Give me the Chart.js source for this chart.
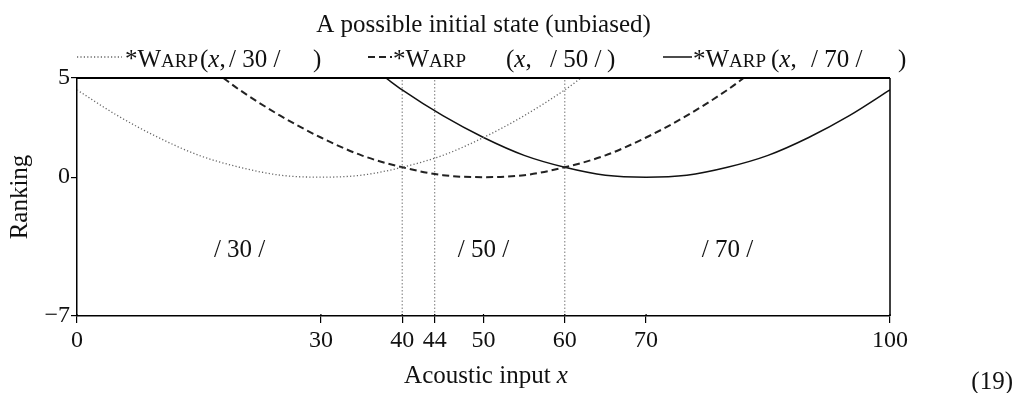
<!DOCTYPE html>
<html>
<head>
<meta charset="utf-8">
<script src="https://cdn.jsdelivr.net/npm/chart.js@4.4.1/dist/chart.umd.min.js"></script>
<style>
  html, body { margin: 0; padding: 0; background: #fff; }
  #wrap { width: 1032px; height: 393px; }
</style>
</head>
<body>
<div id="wrap"><canvas id="chart" width="1032" height="393"></canvas></div>
<script>
const FAMILY = "'Liberation Serif', 'Times New Roman', serif";

// categories and tick labels
const categories = ['30', '50', '70'];
const xTicks = [0, 30, 40, 44, 50, 60, 70, 100];
const yTicks = [-7, 0, 5];
const boundaries = [40, 44, 60];
const labelX = [20, 50, 80];
const labelY = -3.7;

// ranking of *Warp(x, /30/), /50/, /70/
const warp30x = [0, 5, 10, 15, 20, 25, 30, 35, 40, 45, 50, 55, 60, 62];
const warp30y = [4.4, 3.1, 2.0, 1.1, 0.5, 0.1, 0, 0.1, 0.5, 1.1, 2.0, 3.1, 4.4, 5];
const warp50x = [18, 20, 25, 30, 35, 40, 45, 50, 55, 60, 65, 70, 75, 80, 82];
const warp50y = [5, 4.4, 3.1, 2.0, 1.1, 0.5, 0.1, 0, 0.1, 0.5, 1.1, 2.0, 3.1, 4.4, 5];
const warp70x = [38, 40, 45, 50, 55, 60, 65, 70, 75, 80, 85, 90, 95, 100];
const warp70y = [5, 4.4, 3.1, 2.0, 1.1, 0.5, 0.1, 0, 0.1, 0.5, 1.1, 2.0, 3.1, 4.4];

const curveStyles = [
  { color: '#666', width: 1.3, dash: [1.2, 2.2] },
  { color: '#222', width: 2, dash: [7, 4] },
  { color: '#111', width: 1.5, dash: [] }
];

// legend piece positions (px): sample start/end, "*Warp", "(x,", "/cat/", ")"
const legendLayout = [
  { s0: 77, s1: 122, star: 125, paren: 200, cat: 229, close: 313 },
  { s0: 368, s1: 392, star: 393, paren: 506, cat: 550, close: 607 },
  { s0: 663, s1: 692, star: 693, paren: 771, cat: 811, close: 898 }
];

const zip = (xs, ys) => xs.map((x, i) => ({ x: x, y: ys[i] }));
const slashed = c => '/ ' + c + ' /';

const curves = [zip(warp30x, warp30y), zip(warp50x, warp50y), zip(warp70x, warp70y)];

const datasets = curves.map((pts, i) => ({
  label: '*Warp (x, /' + categories[i] + '/)',
  data: pts,
  borderColor: curveStyles[i].color,
  borderWidth: curveStyles[i].width,
  borderDash: curveStyles[i].dash,
  pointRadius: 0,
  cubicInterpolationMode: 'monotone',
  fill: false
}));

boundaries.forEach(b => {
  datasets.push({
    label: 'boundary ' + b,
    data: [{ x: b, y: yTicks[0] }, { x: b, y: yTicks[yTicks.length - 1] }],
    borderColor: '#777',
    borderWidth: 1,
    borderDash: [1.5, 2],
    pointRadius: 0,
    fill: false
  });
});

function drawRuns(ctx, x, y, parts) {
  let cx = x;
  parts.forEach(p => {
    ctx.font = (p.italic ? 'italic ' : '') + p.size + 'px ' + FAMILY;
    ctx.fillText(p.text, cx, y);
    cx += ctx.measureText(p.text).width;
  });
  return cx;
}

const decor = {
  id: 'decor',
  afterDatasetsDraw(chart) {
    const ctx = chart.ctx;
    const a = chart.chartArea;
    const xs = chart.scales.x, ys = chart.scales.y;
    ctx.save();
    ctx.strokeStyle = '#000';
    ctx.lineWidth = 2;
    ctx.beginPath();
    ctx.moveTo(a.left, a.top);
    ctx.lineTo(a.right, a.top);
    ctx.stroke();
    ctx.lineWidth = 1.5;
    ctx.beginPath();
    ctx.moveTo(a.right, a.top);
    ctx.lineTo(a.right, a.bottom);
    ctx.stroke();

    // little cross ticks above the x axis
    ctx.lineWidth = 1.2;
    xTicks.forEach(v => {
      const px = xs.getPixelForValue(v);
      ctx.beginPath();
      ctx.moveTo(px, a.bottom - 2);
      ctx.lineTo(px, a.bottom);
      ctx.stroke();
    });

    ctx.fillStyle = '#111';
    ctx.textAlign = 'center';
    ctx.textBaseline = 'middle';
    ctx.font = '25px ' + FAMILY;
    categories.forEach((c, i) => {
      ctx.fillText(slashed(c), xs.getPixelForValue(labelX[i]), ys.getPixelForValue(labelY));
    });
    ctx.restore();
  },
  afterDraw(chart) {
    const ctx = chart.ctx;
    const a = chart.chartArea;
    ctx.save();
    ctx.fillStyle = '#111';
    ctx.textBaseline = 'alphabetic';

    // title
    ctx.textAlign = 'center';
    ctx.font = '25px ' + FAMILY;
    ctx.fillText('A possible initial state (unbiased)', (a.left + a.right) / 2, 32);

    // legend
    ctx.textAlign = 'left';
    categories.forEach((c, i) => {
      const L = legendLayout[i];
      const st = curveStyles[i];
      ctx.strokeStyle = st.color;
      ctx.lineWidth = st.width;
      ctx.setLineDash(st.dash);
      ctx.beginPath();
      ctx.moveTo(L.s0, 57);
      ctx.lineTo(L.s1, 57);
      ctx.stroke();
      ctx.setLineDash([]);
      drawRuns(ctx, L.star, 67, [
        { text: '*W', size: 25 },
        { text: 'ARP', size: 19 }
      ]);
      drawRuns(ctx, L.paren, 67, [
        { text: '(', size: 25 },
        { text: 'x', size: 25, italic: true },
        { text: ',', size: 25 }
      ]);
      drawRuns(ctx, L.cat, 67, [{ text: slashed(c), size: 25 }]);
      drawRuns(ctx, L.close, 67, [{ text: ')', size: 25 }]);
    });

    // x axis title
    const parts = [
      { text: 'Acoustic input ', size: 25 },
      { text: 'x', size: 25, italic: true }
    ];
    let w = 0;
    parts.forEach(p => {
      ctx.font = (p.italic ? 'italic ' : '') + p.size + 'px ' + FAMILY;
      w += ctx.measureText(p.text).width;
    });
    drawRuns(ctx, 486 - w / 2, 383, parts);

    // equation number
    ctx.textAlign = 'right';
    ctx.font = '25px ' + FAMILY;
    ctx.fillText('(19)', 1013, 389);

    // y axis title
    ctx.translate(20, (a.top + a.bottom) / 2);
    ctx.rotate(-Math.PI / 2);
    ctx.textAlign = 'center';
    ctx.textBaseline = 'middle';
    ctx.fillText('Ranking', 0, 0);
    ctx.restore();
  }
};

new Chart(document.getElementById('chart'), {
  type: 'line',
  data: { datasets: datasets },
  options: {
    responsive: false,
    animation: false,
    layout: { padding: { left: 0, top: 78, right: 142, bottom: 0 } },
    plugins: {
      legend: { display: false },
      title: { display: false },
      tooltip: { enabled: false }
    },
    scales: {
      x: {
        type: 'linear',
        min: 0,
        max: 100,
        afterBuildTicks: s => { s.ticks = xTicks.map(v => ({ value: v })); },
        afterFit: s => { s.height = 77; },
        grid: { drawOnChartArea: false, drawTicks: true, tickLength: 7, color: '#000', lineWidth: 1.2 },
        border: { display: true, color: '#000', width: 1.5 },
        ticks: {
          autoSkip: false,
          maxRotation: 0,
          padding: 3,
          color: '#111',
          font: { family: FAMILY, size: 24 }
        }
      },
      y: {
        type: 'linear',
        min: -7,
        max: 5,
        afterBuildTicks: s => { s.ticks = yTicks.map(v => ({ value: v })); },
        afterFit: s => { s.width = 77; },
        grid: { drawOnChartArea: false, drawTicks: true, tickLength: 6, color: '#000', lineWidth: 1.2 },
        border: { display: true, color: '#000', width: 1.5 },
        ticks: {
          padding: 1,
          color: '#111',
          font: { family: FAMILY, size: 24 },
          callback: v => (v < 0 ? '\u2212' + Math.abs(v) : String(v))
        }
      }
    }
  },
  plugins: [decor]
});
</script>
</body>
</html>
